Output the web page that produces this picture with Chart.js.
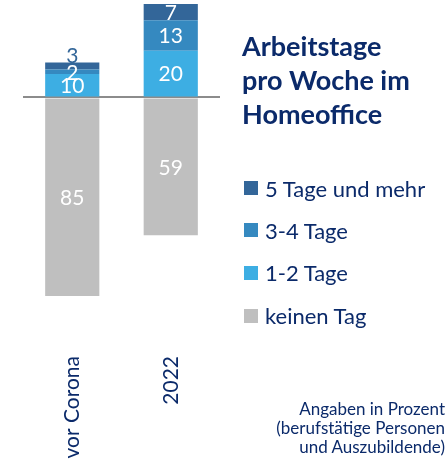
<!DOCTYPE html>
<html><head><meta charset="utf-8">
<script src="https://cdn.jsdelivr.net/npm/chart.js@4.4.1/dist/chart.umd.min.js"></script>
<style>
html,body{margin:0;padding:0;background:#fff;}
#wrap{position:relative;width:448px;height:462px;overflow:hidden;font-family:Lato,"Open Sans",sans-serif;color:#0B2A6A;}
#c{position:absolute;left:0;top:0;}
.title{position:absolute;left:242px;top:29px;font-weight:700;font-size:27px;line-height:34px;white-space:nowrap;}
.item{position:absolute;left:244px;height:30px;display:flex;align-items:center;font-size:22px;white-space:nowrap;}
.sw{width:14px;height:14px;margin-right:7px;flex:none;}
.note{position:absolute;right:3px;top:399px;text-align:right;font-size:17px;line-height:19px;white-space:nowrap;}
</style></head>
<body>
<div id="wrap">
<canvas id="c" width="448" height="462"></canvas>
<div class="title">Arbeitstage<br>pro Woche im<br>Homeoffice</div>
<div id="legend"></div>
<div class="note">Angaben in Prozent<br>(berufstätige Personen<br>und Auszubildende)</div>
</div>
<script>
// Data
const categories = ["vor Corona", "2022"];
const seriesNames = ["1-2 Tage", "3-4 Tage", "5 Tage und mehr", "keinen Tag"];
const days12 = [10, 20];
const days34 = [2, 13];
const days5plus = [3, 7];
const noDay = [85, 59]; // drawn below the zero line
const colors = ["#3DAEE3", "#3589C0", "#336699", "#BFBFBF"];
const legendOrder = [2, 1, 0, 3];

const navy = "#0B2A6A";

// HTML legend
const legendEl = document.getElementById("legend");
const legendCenters = [188, 230, 272.5, 315.5];
legendOrder.forEach((di, i) => {
  const d = document.createElement("div");
  d.className = "item";
  d.style.top = (legendCenters[i] - 15) + "px";
  d.innerHTML = '<span class="sw" style="background:' + colors[di] + '"></span><span>' + seriesNames[di] + '</span>';
  legendEl.appendChild(d);
});

const valueLabels = {
  id: "valueLabels",
  afterDatasetsDraw(chart) {
    const ctx = chart.ctx;
    ctx.save();
    ctx.font = "21px Lato";
    ctx.textAlign = "center";
    chart.data.datasets.forEach((ds, di) => {
      const meta = chart.getDatasetMeta(di);
      meta.data.forEach((bar, i) => {
        const v = Math.abs(ds.data[i]);
        const top = Math.min(bar.y, bar.base), bot = Math.max(bar.y, bar.base);
        const h = bot - top;
        if (h < 8 && di === 2) {
          ctx.fillStyle = colors[2];
          ctx.textBaseline = "alphabetic";
          ctx.fillText(String(v), bar.x, top + 1);
        } else {
          ctx.fillStyle = "#ffffff";
          ctx.textBaseline = "middle";
          ctx.fillText(String(v), bar.x, (top + bot) / 2 + 1);
        }
      });
    });
    ctx.restore();
  }
};

new Chart(document.getElementById("c"), {
  type: "bar",
  data: {
    labels: categories,
    datasets: [
      { label: seriesNames[0], data: days12, backgroundColor: colors[0] },
      { label: seriesNames[1], data: days34, backgroundColor: colors[1] },
      { label: seriesNames[2], data: days5plus, backgroundColor: colors[2] },
      { label: seriesNames[3], data: noDay.map(v => -v), backgroundColor: colors[3] }
    ]
  },
  options: {
    responsive: false,
    animation: false,
    layout: { padding: { left: 23, right: 228, top: 4, bottom: 0 } },
    datasets: { bar: { categoryPercentage: 1, barPercentage: 0.55, borderWidth: 0 } },
    plugins: { legend: { display: false }, tooltip: { enabled: false } },
    scales: {
      x: {
        stacked: true,
        grid: { display: false },
        border: { display: false },
        ticks: { minRotation: 90, maxRotation: 90, padding: 52, color: navy, font: { family: "Lato", size: 21 } },
        afterFit(s) { s.height = 166; }
      },
      y: {
        stacked: true,
        min: -85, max: 40,
        border: { display: false },
        grid: {
          drawTicks: false,
          color: c => (c.tick && c.tick.value === 0) ? "#8C8C8C" : "rgba(0,0,0,0)",
          lineWidth: 2
        },
        ticks: { display: false, stepSize: 5 },
        afterFit(s) { s.width = 0; }
      }
    }
  },
  plugins: [valueLabels]
});
</script>
</body></html>
